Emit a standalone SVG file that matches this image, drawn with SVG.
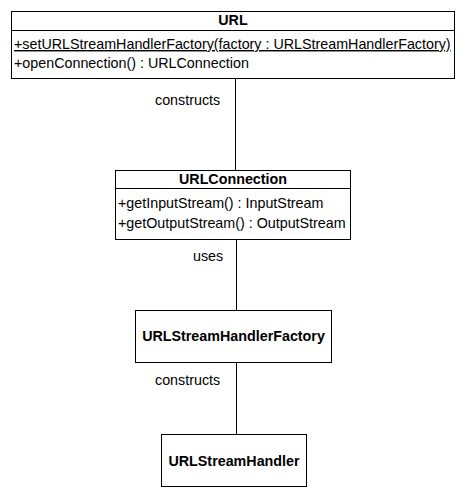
<svg xmlns="http://www.w3.org/2000/svg" width="465" height="493" viewBox="0 0 465 493">
<style>
.box{fill:#fff;stroke:#000;stroke-width:1}
.sep{stroke:#000;stroke-width:1}
.t{font-family:"Liberation Sans",Arial,sans-serif;font-size:14.3px;fill:#000}
.b{font-weight:bold;text-anchor:middle}
.conn{stroke:#000;stroke-width:1;fill:none}
</style>
<rect width="465" height="493" fill="#fff"/>
<g id="connectors">
<line class="conn" x1="235.5" y1="78" x2="235.5" y2="170"/>
<line class="conn" x1="236.5" y1="240" x2="236.5" y2="310"/>
<line class="conn" x1="236.5" y1="362" x2="236.5" y2="434"/>
<text class="t" x="155" y="105">constructs</text>
<text class="t" x="193" y="261">uses</text>
<text class="t" x="155" y="385">constructs</text>
</g>
<g id="URL">
<rect class="box" x="11.5" y="11.5" width="443" height="67"/>
<line class="sep" x1="11.5" y1="30.5" x2="454.5" y2="30.5"/>
<text class="t b" x="233" y="25">URL</text>
<text class="t" x="14" y="49" text-decoration="underline">+setURLStreamHandlerFactory(factory : URLStreamHandlerFactory)</text>
<text class="t" x="14" y="68">+openConnection() : URLConnection</text>
</g>
<g id="URLConnection">
<rect class="box" x="115.5" y="170.5" width="235" height="69"/>
<line class="sep" x1="115.5" y1="188.5" x2="350.5" y2="188.5"/>
<text class="t b" x="233" y="184">URLConnection</text>
<text class="t" x="118" y="208">+getInputStream() : InputStream</text>
<text class="t" x="118" y="228">+getOutputStream() : OutputStream</text>
</g>
<g id="URLStreamHandlerFactory">
<rect class="box" x="135.5" y="310.5" width="196" height="52"/>
<text class="t b" x="233.5" y="341">URLStreamHandlerFactory</text>
</g>
<g id="URLStreamHandler">
<rect class="box" x="161.5" y="434.5" width="145" height="52"/>
<text class="t b" x="234" y="466">URLStreamHandler</text>
</g>
</svg>
